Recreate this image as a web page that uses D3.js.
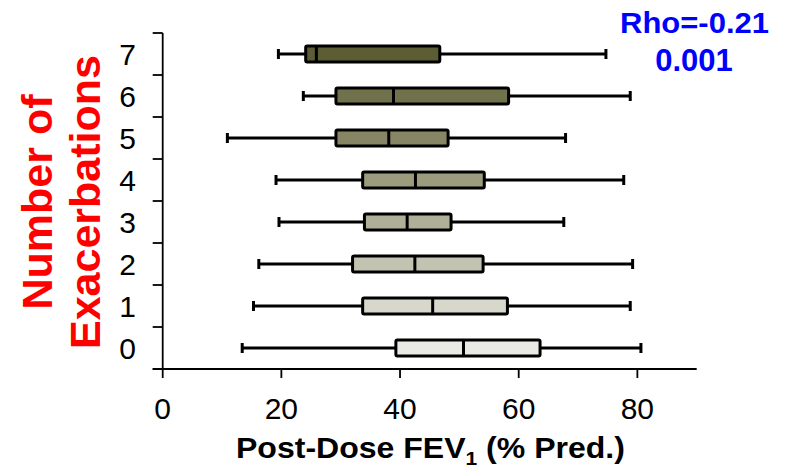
<!DOCTYPE html>
<html>
<head>
<meta charset="utf-8">
<script src="https://cdn.jsdelivr.net/npm/d3@7"></script>
<style>
html,body{margin:0;padding:0;background:#fff;}
svg{display:block;font-family:"Liberation Sans",Arial,sans-serif;}
</style>
</head>
<body>
<svg id="chart" width="786" height="468"></svg>
<script>
const categories = [0, 1, 2, 3, 4, 5, 6, 7];
const whiskerLow  = [13.4, 15.3, 16.2, 19.6, 19.1, 10.9, 23.7, 19.5];
const q1          = [39.3, 33.7, 32.0, 34.0, 33.7, 29.2, 29.2, 24.1];
const median      = [50.7, 45.5, 42.5, 41.2, 42.6, 38.1, 38.9, 25.9];
const q3          = [63.6, 58.1, 54.0, 48.6, 54.2, 48.1, 58.3, 46.7];
const whiskerHigh = [80.6, 78.8, 79.2, 67.6, 77.7, 67.9, 78.8, 74.7];
const boxColors   = ["#eaeae4", "#d7d7cc", "#c3c3b1", "#b0b098", "#9b9b7d", "#868665", "#71714c", "#5c5c35"];
const xTicks = [0, 20, 40, 60, 80];
const xTitle = "Post-Dose FEV";
const xTitleSub = "1";
const xTitleEnd = " (% Pred.)";
const yTitleLines = ["Number of", "Exacerbations"];
const statLines = ["Rho=-0.21", "0.001"];

const svg = d3.select("#chart");
const x = d3.scaleLinear().domain([0, 90]).range([162.7, 696.7]);
const y = d3.scaleBand().domain(categories).range([369, 33]).padding(0);
const bw = y.bandwidth();
const boxH = 16, capH = 10;

// Axes
const axis = svg.append("g").attr("stroke", "#000").attr("stroke-width", 1.8);
axis.append("line").attr("x1", x(0)).attr("x2", x(0)).attr("y1", y(7)).attr("y2", y(0) + bw);
axis.append("line").attr("x1", x(0) - 10).attr("x2", x(90)).attr("y1", y(0) + bw).attr("y2", y(0) + bw);
const bounds = categories.map(c => y(c) + bw).concat([y(7)]);
axis.selectAll(".yt").data(bounds).join("line")
  .attr("x1", x(0) - 10).attr("x2", x(0)).attr("y1", d => d).attr("y2", d => d);
axis.selectAll(".xt").data(xTicks).join("line")
  .attr("x1", d => x(d)).attr("x2", d => x(d)).attr("y1", y(0) + bw).attr("y2", y(0) + bw + 9);

svg.selectAll(".xl").data(xTicks).join("text")
  .attr("x", d => x(d)).attr("y", 419).attr("text-anchor", "middle")
  .attr("font-size", 30).attr("fill", "#000").text(d => d);

svg.selectAll(".yl").data(categories).join("text")
  .attr("x", 136).attr("y", d => y(d) + bw / 2).attr("dy", "0.36em").attr("text-anchor", "end")
  .attr("font-size", 30).attr("fill", "#000").text(d => d);

// Boxes
const g = svg.append("g");
categories.forEach((c, i) => {
  const cy = y(c) + bw / 2;
  const b = g.append("g").attr("stroke", "#000");
  b.append("line").attr("x1", x(whiskerLow[i])).attr("x2", x(q1[i])).attr("y1", cy).attr("y2", cy).attr("stroke-width", 3);
  b.append("line").attr("x1", x(q3[i])).attr("x2", x(whiskerHigh[i])).attr("y1", cy).attr("y2", cy).attr("stroke-width", 3);
  b.append("line").attr("x1", x(whiskerLow[i])).attr("x2", x(whiskerLow[i])).attr("y1", cy - capH / 2).attr("y2", cy + capH / 2).attr("stroke-width", 3);
  b.append("line").attr("x1", x(whiskerHigh[i])).attr("x2", x(whiskerHigh[i])).attr("y1", cy - capH / 2).attr("y2", cy + capH / 2).attr("stroke-width", 3);
  b.append("rect").attr("x", x(q1[i])).attr("y", cy - boxH / 2).attr("width", x(q3[i]) - x(q1[i])).attr("height", boxH)
    .attr("rx", 1.5).attr("fill", boxColors[i]).attr("stroke-width", 3);
  b.append("line").attr("x1", x(median[i])).attr("x2", x(median[i])).attr("y1", cy - boxH / 2).attr("y2", cy + boxH / 2).attr("stroke-width", 3);
});

// X title (stretched to match width)
const xt = svg.append("text").attr("font-size", 29).attr("font-weight", "bold").attr("fill", "#000");
xt.append("tspan").text(xTitle);
xt.append("tspan").attr("font-size", 19).attr("dy", 7).text(xTitleSub);
xt.append("tspan").attr("dy", -7).text(xTitleEnd);
{
  const w = xt.node().getBBox().width;
  xt.attr("transform", `translate(236,458) scale(${389 / w},1)`);
}

// Y title
svg.selectAll(".ytitle").data(yTitleLines).join("text")
  .attr("transform", (d, i) => `translate(${i === 0 ? 52 : 100},202) rotate(-90)`)
  .attr("text-anchor", "middle").attr("font-size", 43).attr("font-weight", "bold")
  .attr("fill", "#ff0000").text(d => d);

// Stats
const s1 = svg.append("text").attr("font-size", 30).attr("font-weight", "bold").attr("fill", "#0000ff").text(statLines[0]);
{
  const w = s1.node().getBBox().width;
  s1.attr("transform", `translate(620,33) scale(${149 / w},1)`);
}
svg.append("text").attr("x", 694).attr("y", 70.7).attr("text-anchor", "middle")
  .attr("font-size", 31).attr("font-weight", "bold").attr("fill", "#0000ff").text(statLines[1]);
</script>
</body>
</html>
